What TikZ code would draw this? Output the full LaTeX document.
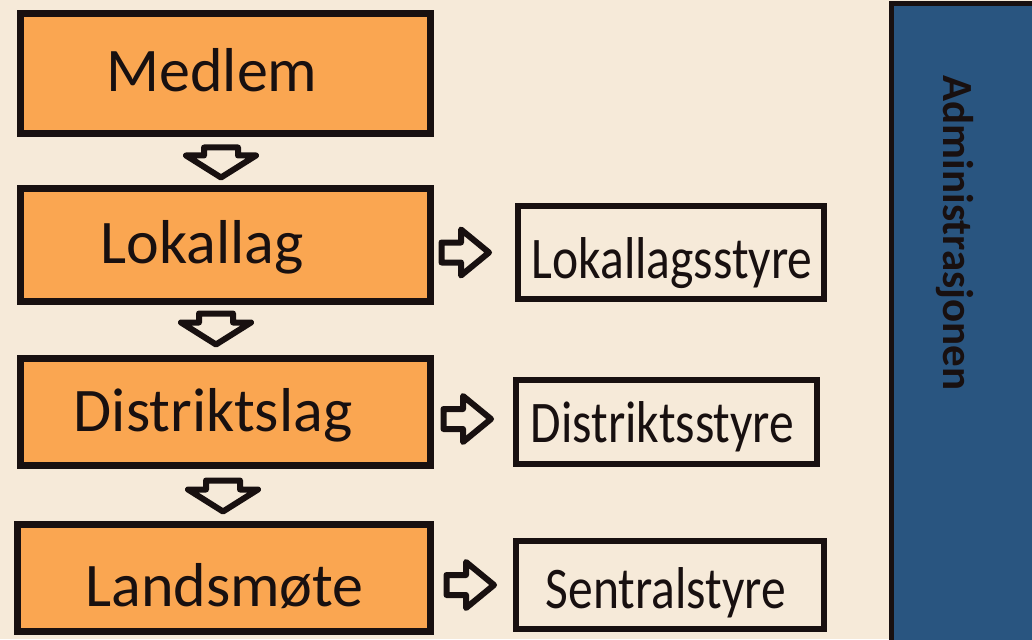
\documentclass[tikz,border=0pt]{standalone}
\usepackage{fontspec}
\setmainfont{Carlito}
\usepackage{graphicx}
\usetikzlibrary{calc}
\definecolor{bg}{RGB}{246,234,217}
\definecolor{orng}{RGB}{250,166,81}
\definecolor{adminblue}{RGB}{41,85,128}
\definecolor{ink}{RGB}{24,16,16}
\tikzset{
  obox/.style={draw=ink, fill=orng, line width=7pt, inner sep=0pt},
  wbox/.style={draw=ink, fill=bg, line width=6pt, inner sep=0pt},
  otext/.style={font=\fontsize{62}{62}\selectfont, text=ink, anchor=base, inner sep=0pt},
  wtext/.style={font=\fontsize{59}{59}\selectfont, text=ink, anchor=base, inner sep=0pt},
  atext/.style={font=\fontsize{43}{43}\selectfont\bfseries, text=ink, inner sep=0pt, rotate=-90},
  adminbox/.style={draw=ink, fill=adminblue, line width=5pt, inner sep=0pt},
  blk/.style={draw=ink, fill=bg, line width=6pt, line join=round},
}
\newcommand{\downblk}[2]{%
  \draw[blk] ($(#1)+(-17,0)$) -- ($(#1)+(17,0)$) -- ($(#2)+(17,-22)$) -- ($(#2)+(35,-22)$)
    -- (#2) -- ($(#2)+(-35,-22)$) -- ($(#2)+(-17,-22)$) -- cycle;}
\newcommand{\rightblk}[2]{%
  \draw[blk] ($(#1)+(0,-10)$) -- ($(#2)+(-28,-10)$) -- ($(#2)+(-28,-23)$) -- (#2)
    -- ($(#2)+(-28,23)$) -- ($(#2)+(-28,10)$) -- ($(#1)+(0,10)$) -- cycle;}
\begin{document}
\begin{tikzpicture}[x=1pt,y=-1pt]
\path[use as bounding box] (0,0) rectangle (1032,639);
\fill[bg] (0,0) rectangle (1032,639);
\clip (0,0) rectangle (1032,639);

% left column
\node[obox, minimum width=410pt, minimum height=120pt] (medlem) at (225,74) {};
\node[otext] (medlem-t) at ($(medlem.center)+(-13,18)$) {Medlem};
\node[obox, minimum width=410pt, minimum height=113pt] (lokallag) at (225,244.5) {};
\node[otext] (lokallag-t) at ($(lokallag.center)+(-23,18.5)$) {Lokallag};
\node[obox, minimum width=410pt, minimum height=107pt] (distriktslag) at (225,411.5) {};
\node[otext] (distriktslag-t) at ($(distriktslag.center)+(-12,20)$) {Distriktslag};
\node[obox, minimum width=413pt, minimum height=107pt] (landsmote) at (223.5,577.5) {};
\node[otext] (landsmote-t) at ($(landsmote.center)+(1,29)$) {Landsmøte};

% right column
\node[wbox, minimum width=306pt, minimum height=93pt] (lstyre) at (671,252.5) {};
\node[wtext] (lstyre-t) at ($(lstyre.center)+(1,25.5)$) {\scalebox{0.84}[1]{Lokallagsstyre}};
\node[wbox, minimum width=301pt, minimum height=84pt] (dstyre) at (666.5,422) {};
\node[wtext] (dstyre-t) at ($(dstyre.center)+(-4,20)$) {\scalebox{0.84}[1]{Distriktsstyre}};
\node[wbox, minimum width=308pt, minimum height=88pt] (sstyre) at (670,585) {};
\node[wtext] (sstyre-t) at ($(sstyre.center)+(-4,23)$) {\scalebox{0.84}[1]{Sentralstyre}};

% administration
\node[adminbox, minimum width=154pt, minimum height=646pt] (admin) at (968,327) {};
\node[atext] (admintext) at (955,233) {Administrasjonen};

% down arrows
\coordinate (d1s) at ($(medlem.south)+(-4,10)$);
\coordinate (d1e) at ($(lokallag.north)+(-4,-7)$);
\coordinate (d2s) at ($(lokallag.south)+(-9,9)$);
\coordinate (d2e) at ($(distriktslag.north)+(-9,-10)$);
\coordinate (d3s) at ($(distriktslag.south)+(-2,12)$);
\coordinate (d3e) at ($(landsmote.north)+(-0.5,-9)$);
\downblk{d1s}{d1e}
\downblk{d2s}{d2e}
\downblk{d3s}{d3e}

% right arrows
\coordinate (r1s) at ($(lokallag.east |- lstyre.west)+(8,0)$);
\coordinate (r1e) at ($(lstyre.west)+(-26,0)$);
\coordinate (r2s) at ($(distriktslag.east |- dstyre.west)+(10,-3)$);
\coordinate (r2e) at ($(dstyre.west)+(-22,-3)$);
\coordinate (r3s) at ($(landsmote.east |- sstyre.west)+(13,0)$);
\coordinate (r3e) at ($(sstyre.west)+(-19,0)$);
\rightblk{r1s}{r1e}
\rightblk{r2s}{r2e}
\rightblk{r3s}{r3e}
\end{tikzpicture}
\end{document}
